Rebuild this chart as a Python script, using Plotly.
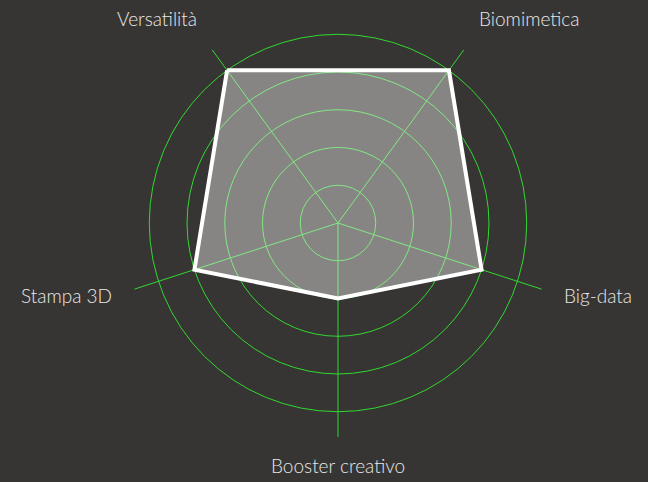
import math
import plotly.graph_objects as go

categories = ["Versatilità", "Biomimetica", "Big-data", "Booster creativo", "Stampa 3D"]
values = [5, 5, 4, 2, 4]
grid_ticks = [1, 2, 3, 4, 5]

W, H = 648, 482
cx, cy = 338, 223          # pixel centre of the polar area
R = 214                    # pixel radius of the radial range
r_max = 5.67
rotation = 126
label_r = 236              # pixel radius where labels are anchored

fig = go.Figure()
fig.add_trace(go.Scatterpolar(
    r=values + values[:1],
    theta=categories + categories[:1],
    mode="lines",
    line=dict(color="#ffffff", width=4),
    fill="toself",
    fillcolor="rgba(255,255,255,0.4)",
    hoverinfo="skip",
    showlegend=False,
))

annotations = []
n = len(categories)
for i, cat in enumerate(categories):
    ang = math.radians(rotation - 360 * i / n)
    c, s = math.cos(ang), math.sin(ang)
    xa = "right" if c < -0.1 else ("left" if c > 0.1 else "center")
    ya = "bottom" if s > 0.5 else ("top" if s < -0.5 else "middle")
    rr = label_r - 7 if ya == "top" else label_r
    px = cx + rr * c
    py = cy - rr * s
    annotations.append(dict(
        text=cat, x=px / W, y=1 - py / H, xref="paper", yref="paper",
        xanchor=xa, yanchor=ya, showarrow=False,
        font=dict(family="Lato, sans-serif", size=19, color="#e8e8e8", weight=300),
    ))

fig.update_layout(
    width=W, height=H,
    paper_bgcolor="#373533",
    plot_bgcolor="#373533",
    margin=dict(l=0, r=0, t=0, b=0),
    font=dict(family="Lato, sans-serif", color="#e8e8e8", size=19),
    annotations=annotations,
    polar=dict(
        bgcolor="#373533",
        domain=dict(x=[(cx - R) / W, (cx + R) / W], y=[1 - (cy + R) / H, 1 - (cy - R) / H]),
        radialaxis=dict(
            range=[0, r_max],
            tickvals=grid_ticks,
            showticklabels=False,
            ticks="",
            showline=False,
            gridcolor="#30d830",
            gridwidth=1.4,
        ),
        angularaxis=dict(
            direction="clockwise",
            rotation=rotation,
            showline=False,
            showticklabels=False,
            ticks="",
            gridcolor="#30d830",
            gridwidth=1.4,
        ),
    ),
)

fig.write_html(
    "out.html",
    config={"displayModeBar": False},
    post_script="document.body.style.margin='0';document.body.style.overflow='hidden';",
)
